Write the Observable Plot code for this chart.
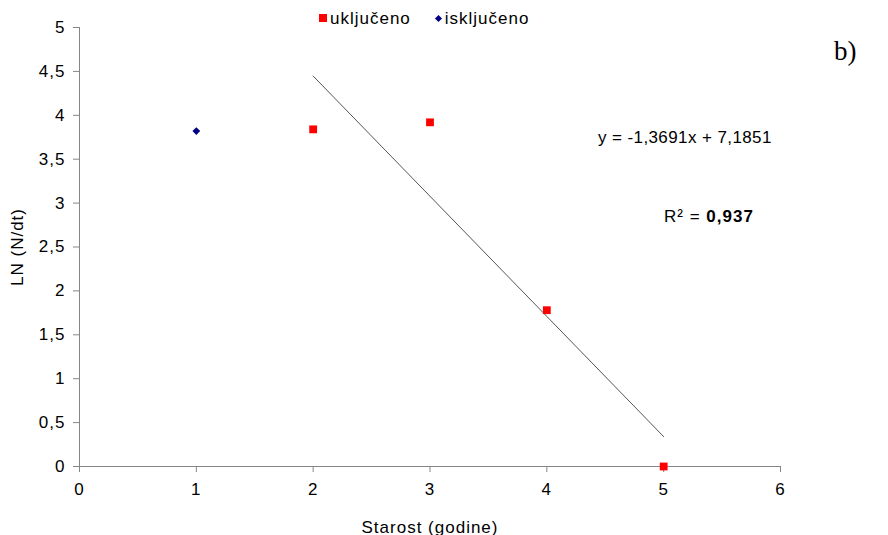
<!DOCTYPE html>
<html>
<head>
<meta charset="utf-8">
<script src="https://cdn.jsdelivr.net/npm/d3@7"></script>
<script src="https://cdn.jsdelivr.net/npm/@observablehq/plot@0.6"></script>
<style>
  html, body { margin: 0; padding: 0; background: #fff; }
  #wrap { position: relative; width: 888px; height: 535px; overflow: hidden; font-family: "Liberation Sans", Arial, sans-serif; color: #000; }
  #wrap svg { position: absolute; left: 0; top: 0; }
  .ov { position: absolute; white-space: nowrap; font-size: 17px; letter-spacing: 1px; line-height: 1; }
  .sq { display: inline-block; width: 8px; height: 8px; background: #ff0000; vertical-align: 2px; margin-right: 3px; }
  .dm { display: inline-block; width: 5px; height: 5px; background: #000080; transform: rotate(45deg); vertical-align: 3px; margin-right: 4px; margin-left: 2px; }
</style>
</head>
<body>
<div id="wrap"></div>
<script>
// ---- data ----
const xTicks = [0, 1, 2, 3, 4, 5, 6];
const yTicks = [0, 0.5, 1, 1.5, 2, 2.5, 3, 3.5, 4, 4.5, 5];
const ukljucenoX = [2, 3, 4, 5];
const ukljucenoY = [3.84, 3.92, 1.78, 0];
const iskljucenoX = [1];
const iskljucenoY = [3.82];
const trendX = [2, 5];
const trendY = [4.447, 0.340];
const seriesNames = ["uključeno", "isključeno"];
const xLabel = "Starost (godine)";
const yLabel = "LN (N/dt)";
const equationText = "y = -1,3691x + 7,1851";
const r2Label = "R² = ";
const r2Value = "0,937";
const panelTag = "b)";

const onData = ukljucenoX.map((x, i) => ({x, y: ukljucenoY[i]}));
const offData = iskljucenoX.map((x, i) => ({x, y: iskljucenoY[i]}));
const trendData = trendX.map((x, i) => ({x, y: trendY[i]}));
const fmt = d => String(d).replace(".", ",");

const chart = Plot.plot({
  width: 888,
  height: 535,
  marginLeft: 79,
  marginRight: 108,
  marginTop: 27,
  marginBottom: 69,
  style: {fontFamily: "'Liberation Sans', Arial, sans-serif", fontSize: "17px", color: "#000", background: "#fff", letterSpacing: "1px"},
  x: {domain: [0, 6]},
  y: {domain: [0, 5]},
  marks: [
    Plot.axisY({ticks: yTicks, tickSize: 6, tickPadding: 8, tickFormat: fmt, stroke: "#868686", fontSize: 17,
      label: yLabel, labelAnchor: "center", labelOffset: 69, labelArrow: "none"}),
    Plot.axisX({ticks: xTicks, tickSize: 6, tickPadding: 10, tickFormat: fmt, stroke: "#868686", fontSize: 17,
      label: xLabel, labelAnchor: "center", labelOffset: 66, labelArrow: "none"}),
    Plot.ruleX([0], {stroke: "#868686"}),
    Plot.ruleY([0], {stroke: "#868686"}),
    Plot.line(trendData, {x: "x", y: "y", stroke: "#555", strokeWidth: 1}),
    Plot.dot(offData, {x: "x", y: "y", symbol: "diamond2", r: 3.5, fill: "#000080", stroke: "none"}),
    Plot.dot(onData, {x: "x", y: "y", symbol: "square", r: 4.4, fill: "#ff0000", stroke: "none"})
  ]
});

const wrap = document.getElementById("wrap");
wrap.appendChild(chart);

function overlay(html, left, top, extra) {
  const d = document.createElement("div");
  d.className = "ov";
  d.style.left = left + "px";
  d.style.top = top + "px";
  if (extra) Object.assign(d.style, extra);
  d.innerHTML = html;
  wrap.appendChild(d);
  return d;
}
overlay(`<span class="sq"></span>${seriesNames[0]}&nbsp;&nbsp;&nbsp;&nbsp;<span class="dm"></span>${seriesNames[1]}`, 319, 10);
overlay(equationText, 598, 129, {letterSpacing: "0.4px"});
overlay(`${r2Label}<b>${r2Value}</b>`, 664, 208);
overlay(panelTag, 834, 38, {fontFamily: "'Liberation Serif', 'Times New Roman', serif", fontSize: "27px", letterSpacing: "0px"});
</script>
</body>
</html>
